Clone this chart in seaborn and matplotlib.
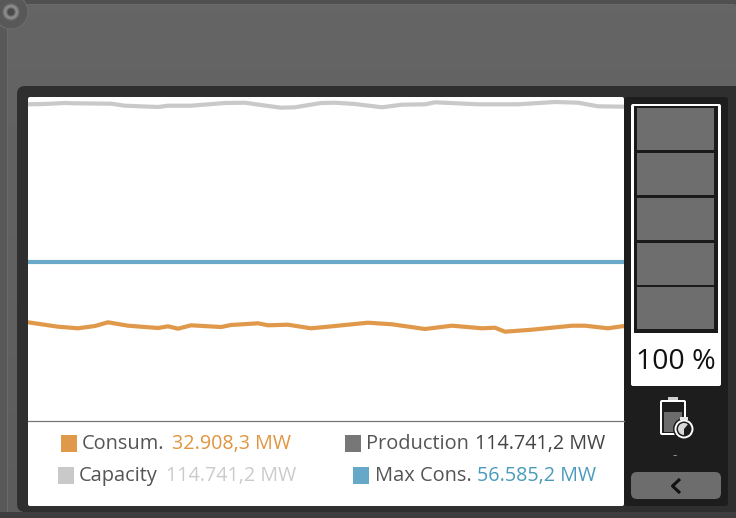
import pandas as pd
import numpy as np
import matplotlib.pyplot as plt
from matplotlib.patches import Rectangle, FancyBboxPatch, Circle, Wedge
import seaborn as sns

# Series values (MW)
capacity_x = [0, 17, 37, 47, 83, 97, 130, 140, 163, 197, 217, 233, 253, 267, 293,
              307, 327, 354, 374, 397, 407, 450, 490, 527, 550, 570, 596]
capacity_mw = [114776, 114887, 115256, 115145, 114998, 114260, 113780, 114260, 114260,
               115256, 115365, 114518, 113522, 113670, 115256, 115365, 114887, 113670,
               114629, 114776, 115514, 114776, 114776, 115625, 115367, 114038, 113891]
consum_x = [0, 30, 50, 67, 80, 100, 130, 140, 150, 163, 193, 203, 230, 240, 260, 283,
            297, 340, 364, 397, 424, 454, 467, 477, 504, 544, 557, 580, 596]
consum_mw = [34334, 32711, 32120, 32969, 34334, 33080, 32231, 32858, 31973, 33227, 32600,
             33338, 33965, 33227, 33449, 32120, 32600, 34187, 33596, 31862, 33080, 32120,
             32340, 30866, 31604, 33080, 33080, 32120, 32969]
max_cons_x = [0, 596]
max_cons_mw = [56585.2, 56585.2]

legend_names = ['Consum.', 'Production', 'Capacity', 'Max Cons.']
legend_values = ['32.908,3 MW', '114.741,2 MW', '114.741,2 MW', '56.585,2 MW']
battery_text = '100 %'
cell_count = 5

ORANGE = '#E0984A'
LIGHT = '#C9C9C9'
BLUE = '#6AA9C7'
W, H = 736, 518

sns.set_style('white')
plt.rcParams['font.family'] = ['Open Sans', 'DejaVu Sans']

fig = plt.figure(figsize=(W / 100, H / 100), dpi=100)
bg = fig.add_axes([0, 0, 1, 1])
bg.set_xlim(0, W)
bg.set_ylim(H, 0)
bg.axis('off')


def box(x0, y0, x1, y1, color, round_px=0, z=1, ax=bg, **kw):
    if round_px:
        p = FancyBboxPatch((x0 + round_px, y0 + round_px), x1 - x0 - 2 * round_px, y1 - y0 - 2 * round_px,
                           boxstyle=f'round,pad={round_px},rounding_size={round_px}',
                           fc=color, ec='none', zorder=z, **kw)
    else:
        p = Rectangle((x0, y0), x1 - x0, y1 - y0, fc=color, ec='none', zorder=z, **kw)
    ax.add_patch(p)
    return p


# back plate
box(0, 0, W, H, '#585858', z=0)
box(0, 0, W, 4, '#505050', z=1)
box(7, 4, W, H, '#6a6a6a', round_px=3, z=1)
bg.imshow(np.linspace(0.395, 0.36, 64).reshape(-1, 1), cmap='gray', vmin=0, vmax=1,
          extent=(8, W, H, 5.5), aspect='auto', zorder=2)
bg.set_xlim(0, W)
bg.set_ylim(H, 0)
# screw in the corner
bg.add_patch(Circle((11, 12), 17, fc='#585858', ec='#6c6c6c', lw=0.8, zorder=3))
bg.add_patch(Circle((11, 12), 8, fc='#8a8a8a', ec='#6a6a6a', lw=1, zorder=4))
bg.add_patch(Circle((11, 12), 4, fc='#4a4a4a', ec='#666666', lw=0.8, zorder=5))

# dark frame
box(17, 86, W + 10, 512, '#2f2f2f', round_px=8, z=6)
box(624, 97, 728, 506, '#1d1d1d', round_px=3, z=7)
box(28, 97, 624, 506, 'white', round_px=2, z=8)
box(0, 512, W, H, '#3d3d3d', z=5)

# battery column
box(631, 104, 721, 386, 'white', round_px=2, z=9)
box(634, 106, 718, 333, '#1a1a1a', z=10)
cell_top = [108, 153, 198, 243, 287]
for top in cell_top[:cell_count]:
    box(637, top, 714, top + 42, '#6e6e6e', z=11)
bg.text(676, 362, battery_text, fontsize=20.5, color='#111111', ha='center', va='center', zorder=12)

# battery + stopwatch icon
box(660, 400, 686, 435, 'white', round_px=2, z=9)
box(662, 402, 684, 433, '#1d1d1d', z=10)
box(664, 412, 682, 432, '#6c6c6c', z=11)
box(668, 397, 678, 400, '#cfcfcf', z=11)
bg.add_patch(Circle((684, 429), 11, fc='#1d1d1d', ec='none', zorder=12))
bg.add_patch(Circle((684, 429), 8.5, fc='#1d1d1d', ec='white', lw=1.4, zorder=13))
bg.add_patch(Wedge((684, 429), 6, 90, 270, fc='#d9d9d9', ec='none', zorder=14))
bg.add_patch(Wedge((684, 429), 6, 270, 310, fc='#d9d9d9', ec='none', zorder=14))
box(680, 417, 688, 420, '#e5e5e5', z=13)
bg.text(675, 456, '-', fontsize=10, color='#8a8a8a', ha='center', va='center', zorder=12)

# back button
box(631, 472, 721, 499, '#6d6d6d', round_px=6, z=9)
bg.plot([680, 672.5, 680], [479, 486, 493], color='#111111', lw=2.2, zorder=10, solid_capstyle='butt')

# chart
ax = fig.add_axes([28 / W, 1 - 421 / H, 596 / W, 324 / H], zorder=2)
ax.patch.set_alpha(0)
sns.lineplot(x=capacity_x, y=capacity_mw, color=LIGHT, lw=3.0, ax=ax, estimator=None)
sns.lineplot(x=max_cons_x, y=max_cons_mw, color=BLUE, lw=3.0, ax=ax, estimator=None)
sns.lineplot(x=consum_x, y=consum_mw, color=ORANGE, lw=3.0, ax=ax, estimator=None)
ax.set_xlim(0, 596)
ax.set_ylim(-2086, 117470)
ax.set_xticks([])
ax.set_yticks([])
sns.despine(ax=ax, left=True, right=True, top=True, bottom=False)
ax.spines['bottom'].set_color('#777777')
ax.spines['bottom'].set_linewidth(0.9)

# legend, drawn as figure text
top = fig.add_axes([0, 0, 1, 1], zorder=3)
top.set_xlim(0, W)
top.set_ylim(H, 0)
top.axis('off')
top.patch.set_alpha(0)
swatches = [ORANGE, '#777777', LIGHT, '#65A8C8']
value_colors = ['#E0953F', '#444444', '#CBCBCB', '#4A9BBB']
swatch_x = [61, 345, 58, 353]
name_x = [82, 366, 79, 375]
value_x = [172, 475, 166, 477]
row_y = [444, 444, 476, 476]
for i in range(4):
    box(swatch_x[i], row_y[i] - 9, swatch_x[i] + 16, row_y[i] + 8, swatches[i], z=5, ax=top)
    top.text(name_x[i], row_y[i], legend_names[i], fontsize=14.4, color='#555555', va='center', zorder=5)
    top.text(value_x[i], row_y[i], legend_values[i], fontsize=14.2, color=value_colors[i], va='center', zorder=5)

plt.savefig('out.png', dpi=100)
